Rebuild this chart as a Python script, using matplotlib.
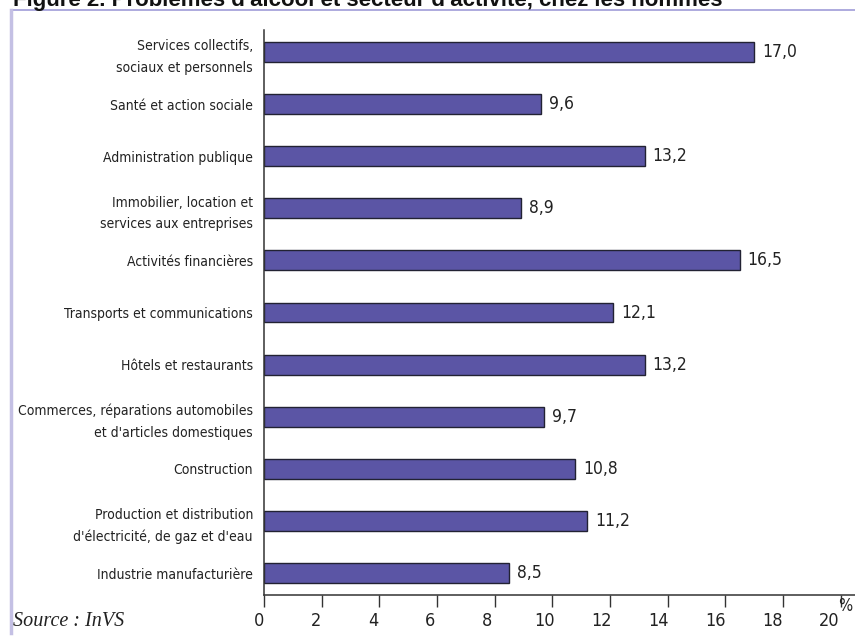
import matplotlib
matplotlib.use('Agg')
import matplotlib.pyplot as plt
import matplotlib.transforms as mtransforms
from matplotlib.lines import Line2D

# data, top to bottom as in the figure
sectors = [
    "Services collectifs,\nsociaux et personnels",
    "Santé et action sociale",
    "Administration publique",
    "Immobilier, location et\nservices aux entreprises",
    "Activités financières",
    "Transports et communications",
    "Hôtels et restaurants",
    "Commerces, réparations automobiles\net d'articles domestiques",
    "Construction",
    "Production et distribution\nd'électricité, de gaz et d'eau",
    "Industrie manufacturière",
]
values = [17.0, 9.6, 13.2, 8.9, 16.5, 12.1, 13.2, 9.7, 10.8, 11.2, 8.5]
xticks = [0, 2, 4, 6, 8, 10, 12, 14, 16, 18, 20]

title = "Figure 2. Problèmes d'alcool et secteur d'activité, chez les hommes"
source = "Source : InVS"

plt.rcParams['font.family'] = ['DejaVu Sans']
plt.rcParams['font.stretch'] = 'condensed'

W, H = 855, 637
fig = plt.figure(figsize=(W / 100, H / 100), dpi=100)
ax = fig.add_axes([264 / W, 42 / H, (W - 264) / W, (595 - 30) / H])

n = len(values)
ypos = [n - 1 - i for i in range(n)]
bar_color = '#5b55a5'
ax.barh(ypos, values, height=0.38, color=bar_color, edgecolor='#222233', linewidth=1.0)

for y, v in zip(ypos, values):
    lbl = ('%.1f' % v).replace('.', ',')
    ax.text(v, y, lbl, ha='left', va='center', fontsize=12.5, color='#222222',
            transform=ax.transData + mtransforms.ScaledTranslation(8 / 100, 0, fig.dpi_scale_trans))

ax.set_xlim(0, 20.5)
ax.set_ylim(-0.42, n - 1 + 0.42)
ax.set_yticks(ypos)
ax.set_yticklabels(sectors, fontsize=10, linespacing=1.65, color='#222222')
ax.tick_params(axis='y', length=0, pad=8)

ax.set_xticks(xticks)
ax.set_xticklabels([str(t) for t in xticks], fontsize=13, color='#222222')
ax.tick_params(axis='x', direction='out', length=8.6, width=1.0, pad=3.5, color='#333333')
for lab, t in zip(ax.get_xticklabels(), xticks):
    dx = -(5 + 6 * t / 20) / 100
    lab.set_transform(lab.get_transform() + mtransforms.ScaledTranslation(dx, 0, fig.dpi_scale_trans))

for s in ['top', 'right']:
    ax.spines[s].set_visible(False)
for s in ['left', 'bottom']:
    ax.spines[s].set_color('#333333')
    ax.spines[s].set_linewidth(1.1)

# frame lines
fig.add_artist(Line2D([11 / W, 1], [1 - 10 / H, 1 - 10 / H], color='#a09cd8', lw=1.2))
fig.add_artist(Line2D([11 / W, 11 / W], [1 - 10 / H, 4 / H], color='#c4c0e4', lw=2.5))

# title is cropped at the top edge in the original
fig.text(13 / W, 1 - 6 / H, title, ha='left', va='baseline', fontsize=16,
         fontweight='bold', fontstretch='normal', family=['Liberation Sans', 'DejaVu Sans'], color='#111111')
fig.text(13 / W, 1 - 621 / H, source, ha='left', va='center', fontsize=14.5,
         style='italic', fontstretch='normal', family=['Liberation Serif', 'DejaVu Serif'], color='#222222')
fig.text(845 / W, 1 - 606 / H, '%', ha='center', va='center', fontsize=12, color='#222222')

fig.savefig('out.png', dpi=100)
